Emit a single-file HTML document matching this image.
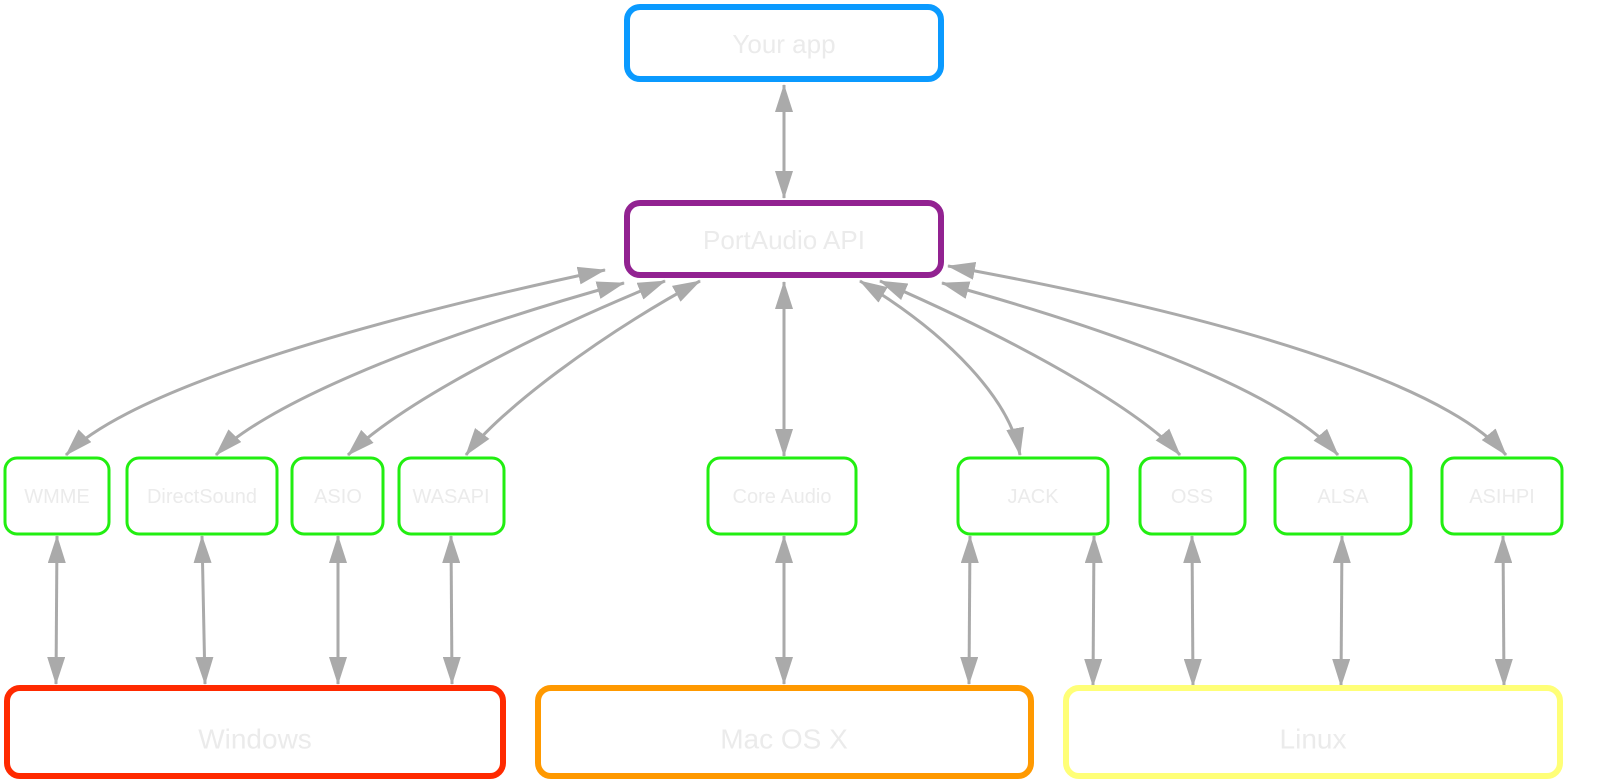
<!DOCTYPE html>
<html><head><meta charset="utf-8"><style>
html,body{margin:0;padding:0;background:#fff;}
svg{display:block;}
text{font-family:"Liberation Sans",sans-serif;fill:#ebebeb;text-anchor:middle;dominant-baseline:central;}
</style></head><body>
<svg width="1600" height="782" viewBox="0 0 1600 782" xmlns="http://www.w3.org/2000/svg">
<defs>
<marker id="a" markerUnits="userSpaceOnUse" markerWidth="28" markerHeight="18" refX="27" refY="9" orient="auto-start-reverse">
<path d="M0,0 L28,9 L0,18 Z" fill="#aaaaaa"/>
</marker>
</defs>
<g fill="none" stroke="#aaaaaa" stroke-width="3" marker-start="url(#a)" marker-end="url(#a)">
<line x1="784" y1="85" x2="784" y2="198"/>
<line x1="784" y1="282" x2="784" y2="456"/>
<path d="M605,270 C300,335 120,400 66,455"/>
<path d="M624,283 C400,345 260,410 216,455"/>
<path d="M665,281 C520,340 400,405 348,455"/>
<path d="M700,281 C600,335 500,410 466,455"/>
<path d="M860,281 C950,335 1010,400 1020,455"/>
<path d="M880,281 C1050,355 1150,420 1180,455"/>
<path d="M942,283 C1150,340 1290,400 1338,455"/>
<path d="M948,266 C1300,330 1460,400 1506,455"/>
<line x1="57" y1="536" x2="56" y2="684"/>
<line x1="202" y1="536" x2="205" y2="684"/>
<line x1="338" y1="536" x2="338" y2="684"/>
<line x1="451" y1="536" x2="452" y2="684"/>
<line x1="784" y1="536" x2="784" y2="684"/>
<line x1="970" y1="536" x2="969" y2="684"/>
<line x1="1094" y1="536" x2="1093" y2="686"/>
<line x1="1192" y1="536" x2="1193" y2="686"/>
<line x1="1342" y1="536" x2="1341" y2="686"/>
<line x1="1503" y1="536" x2="1504" y2="686"/>
</g>
<g fill="#fff" stroke-width="6">
<rect x="627" y="7" width="314" height="72" rx="13" stroke="#0a9aff"/>
<rect x="627" y="203" width="314" height="72" rx="13" stroke="#922291"/>
<rect x="7" y="688" width="496" height="88" rx="13" stroke="#ff2a00"/>
<rect x="538" y="688" width="493" height="88" rx="13" stroke="#ff9900"/>
<rect x="1066" y="688" width="494" height="88" rx="13" stroke="#ffff77"/>
</g>
<g fill="#fff" stroke="#22ee11" stroke-width="3">
<rect x="5" y="458" width="104" height="76" rx="12"/>
<rect x="127" y="458" width="150" height="76" rx="12"/>
<rect x="292" y="458" width="91" height="76" rx="12"/>
<rect x="399" y="458" width="105" height="76" rx="12"/>
<rect x="708" y="458" width="148" height="76" rx="12"/>
<rect x="958" y="458" width="150" height="76" rx="12"/>
<rect x="1140" y="458" width="105" height="76" rx="12"/>
<rect x="1275" y="458" width="136" height="76" rx="12"/>
<rect x="1442" y="458" width="120" height="76" rx="12"/>
</g>
<g font-size="26">
<text x="784" y="44">Your app</text>
<text x="784" y="240">PortAudio API</text>
</g>
<g font-size="20">
<text x="57" y="497">WMME</text>
<text x="202" y="497">DirectSound</text>
<text x="338" y="497">ASIO</text>
<text x="451" y="497">WASAPI</text>
<text x="782" y="497">Core Audio</text>
<text x="1033" y="497">JACK</text>
<text x="1192" y="497">OSS</text>
<text x="1343" y="497">ALSA</text>
<text x="1502" y="497">ASIHPI</text>
</g>
<g font-size="28">
<text x="255" y="739">Windows</text>
<text x="784" y="739">Mac OS X</text>
<text x="1313" y="739">Linux</text>
</g>
</svg>
</body></html>
